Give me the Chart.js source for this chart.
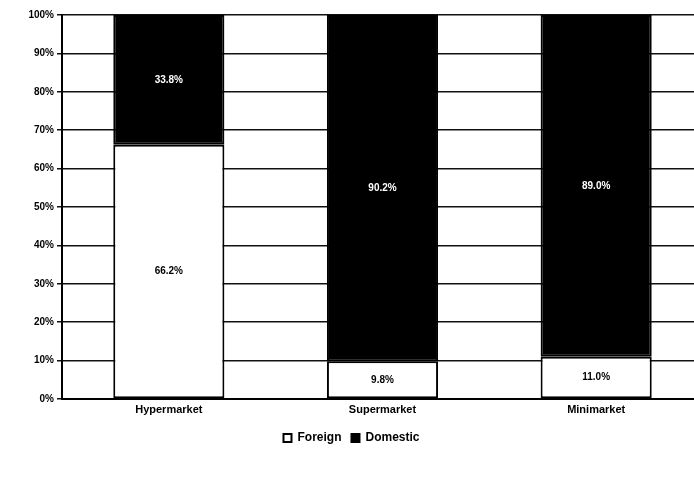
<!DOCTYPE html>
<html>
<head>
<meta charset="utf-8">
<script src="https://cdn.jsdelivr.net/npm/chart.js@4"></script>
<style>
  html, body { margin: 0; padding: 0; background: #fff; overflow: hidden; }
  #wrap { width: 694px; height: 478px; overflow: hidden; }
</style>
</head>
<body>
<div id="wrap"><canvas id="chart" width="703" height="478"></canvas></div>
<script>
const categories = ["Hypermarket", "Supermarket", "Minimarket"];
const foreign = [66.2, 9.8, 11.0];
const domestic = [33.8, 90.2, 89.0];

const FONT = "'Liberation Sans', Arial, sans-serif";

// writes the share inside each bar segment
const valueLabels = {
  id: "valueLabels",
  afterDatasetsDraw(chart) {
    const ctx = chart.ctx;
    ctx.save();
    ctx.font = "bold 10px " + FONT;
    ctx.textAlign = "center";
    ctx.textBaseline = "middle";
    chart.data.datasets.forEach((ds, i) => {
      const meta = chart.getDatasetMeta(i);
      meta.data.forEach((bar, j) => {
        const mid = (bar.y + bar.base) / 2;
        ctx.fillStyle = i === 1 ? "#fff" : "#000";
        ctx.fillText(ds.data[j].toFixed(1) + "%", bar.x, mid);
      });
    });
    ctx.restore();
  }
};

new Chart(document.getElementById("chart").getContext("2d"), {
  type: "bar",
  data: {
    labels: categories,
    datasets: [
      {
        label: "Foreign",
        data: foreign,
        backgroundColor: "#fff",
        borderColor: "#000",
        borderWidth: 2,
        borderSkipped: false,
        categoryPercentage: 1,
        barPercentage: 0.52
      },
      {
        label: "Domestic",
        data: domestic,
        backgroundColor: "#000",
        borderColor: "#000",
        borderWidth: 2,
        borderSkipped: false,
        categoryPercentage: 1,
        barPercentage: 0.52
      }
    ]
  },
  options: {
    responsive: false,
    animation: false,
    layout: { padding: { top: 15, right: 0, bottom: 24, left: 0 } },
    scales: {
      x: {
        stacked: true,
        grid: { display: false, drawTicks: false },
        border: { color: "#000", width: 2 },
        afterFit(scale) { scale.height = 23; },
        ticks: { color: "#000", font: { family: FONT, size: 11, weight: "bold" }, padding: 4 }
      },
      y: {
        stacked: true,
        min: 0,
        max: 100,
        afterFit(scale) { scale.width = 62; },
        grid: { color: "#111", lineWidth: 1.5, tickLength: 5 },
        border: { color: "#000", width: 2 },
        ticks: {
          stepSize: 10,
          color: "#000",
          font: { family: FONT, size: 10, weight: "bold" },
          callback: v => v + "%"
        }
      }
    },
    plugins: {
      tooltip: { enabled: false },
      legend: {
        position: "bottom",
        labels: {
          color: "#000",
          font: { family: FONT, size: 12, weight: "bold" },
          boxWidth: 8,
          boxHeight: 8,
          padding: 10
        }
      }
    }
  },
  plugins: [valueLabels]
});
</script>
</body>
</html>
